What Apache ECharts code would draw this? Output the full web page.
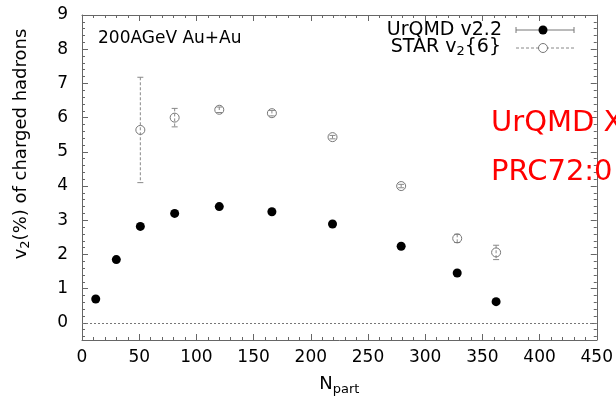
<!DOCTYPE html>
<html>
<head>
<meta charset="utf-8">
<script src="https://cdn.jsdelivr.net/npm/echarts@6/dist/echarts.min.js"></script>
<style>
html,body{margin:0;padding:0;background:#fff;}
#chart{width:616px;height:403px;}
</style>
</head>
<body>
<div id="chart"></div>
<script>
// ---- data ----
const nPartUrQMD = [12, 30, 51, 81, 120, 166, 219, 279, 328, 362];
const v2UrQMD    = [0.70, 1.85, 2.82, 3.20, 3.40, 3.25, 2.89, 2.24, 1.46, 0.62];
const nPartSTAR  = [51, 81, 120, 166, 219, 279, 328, 362];
const v2STAR     = [5.64, 6.00, 6.23, 6.13, 5.43, 4.00, 2.47, 2.06];
const errSTAR    = [1.54, 0.27, 0.08, 0.08, 0.05, 0.05, 0.12, 0.21];
const yTickLabels = [0, 1, 2, 3, 4, 5, 6, 7, 8, 9];
const xTickLabels = [0, 50, 100, 150, 200, 250, 300, 350, 400, 450];

const yMinorTicks = [];
for (let i = -2; i <= 45; i++) { if (i % 5 !== 0) yMinorTicks.push(Math.round(i * 20) / 100); }

const FONT = 'DejaVu Sans';
const FRAME = '#666';

const urqmdData = nPartUrQMD.map((x, i) => [x, v2UrQMD[i]]);
const starData = nPartSTAR.map((x, i) => [x, v2STAR[i]]);
const starErr = nPartSTAR.map((x, i) => [x, v2STAR[i], errSTAR[i]]);

function xAxisCfg(pos, labels) {
  return {
    type: 'value', position: pos, min: xTickLabels[0], max: xTickLabels[xTickLabels.length - 1], interval: 50,
    axisLine: { show: true, onZero: false, lineStyle: { color: FRAME, width: 1 } },
    axisTick: { show: true, inside: true, length: 6, lineStyle: { color: FRAME } },
    minorTick: { show: true, splitNumber: 5, length: 3, lineStyle: { color: FRAME } },
    splitLine: { show: false },
    axisLabel: { show: labels, margin: 9, fontFamily: FONT, fontSize: 17, color: '#000' },
    name: labels ? 'N{sub|part}' : '',
    nameLocation: 'middle', nameGap: 33,
    nameTextStyle: { fontFamily: FONT, fontSize: 18, color: '#000',
      rich: { sub: { fontFamily: FONT, fontSize: 13, color: '#000', padding: [10, 0, 0, 0] } } }
  };
}
function yAxisCfg(pos, major, labels) {
  return {
    type: 'value', position: pos, min: -0.5, max: 9,
    axisLine: { show: major, onZero: false, lineStyle: { color: FRAME, width: 1 } },
    axisTick: { show: true, inside: true, length: major ? 6 : 3,
      customValues: major ? yTickLabels : yMinorTicks, lineStyle: { color: FRAME } },
    splitLine: { show: false },
    axisLabel: { show: labels, customValues: yTickLabels, margin: 14, fontFamily: FONT, fontSize: 17, color: '#000' }
  };
}

const chart = echarts.init(document.getElementById('chart'), null, { renderer: 'canvas' });
chart.setOption({
  animation: false,
  backgroundColor: '#fff',
  grid: { left: 82, right: 19, top: 15, bottom: 63 },
  xAxis: [xAxisCfg('bottom', true), xAxisCfg('top', false)],
  yAxis: [yAxisCfg('left', true, true), yAxisCfg('left', false, false),
          yAxisCfg('right', true, false), yAxisCfg('right', false, false)],
  series: [
    {
      type: 'custom', name: 'STAR err', xAxisIndex: 0, yAxisIndex: 0, z: 2,
      data: starErr,
      renderItem: function (params, api) {
        const x = api.value(0), y = api.value(1), e = api.value(2);
        const t = api.coord([x, y + e]), b = api.coord([x, y - e]);
        const w = 3;
        const st = { stroke: '#888', lineWidth: 1 };
        return { type: 'group', children: [
          { type: 'line', shape: { x1: t[0], y1: t[1], x2: b[0], y2: b[1] }, style: { stroke: '#888', lineWidth: 1, lineDash: [3, 2] } },
          { type: 'line', shape: { x1: t[0] - w, y1: t[1], x2: t[0] + w, y2: t[1] }, style: st },
          { type: 'line', shape: { x1: b[0] - w, y1: b[1], x2: b[0] + w, y2: b[1] }, style: st }
        ] };
      }
    },
    {
      type: 'scatter', name: 'STAR v2{6}', xAxisIndex: 0, yAxisIndex: 0, z: 3,
      data: starData, symbol: 'circle', symbolSize: 9,
      itemStyle: { color: 'rgba(0,0,0,0)', borderColor: '#777', borderWidth: 1, opacity: 1 },
      markLine: {
        silent: true, symbol: 'none', label: { show: false },
        lineStyle: { color: '#777', type: [2, 2], width: 1 },
        data: [{ yAxis: 0 }]
      }
    },
    {
      type: 'scatter', name: 'UrQMD v2.2', xAxisIndex: 0, yAxisIndex: 0, z: 4,
      data: urqmdData, symbol: 'circle', symbolSize: 9,
      itemStyle: { color: '#000', opacity: 1 }
    }
  ],
  graphic: [
    { type: 'text', rotation: Math.PI / 2, x: 21, y: 144, silent: true,
      style: { text: 'v{sub|2}(%) of charged hadrons', fill: '#000', font: '18px ' + FONT,
        align: 'center', verticalAlign: 'middle',
        rich: { sub: { fontFamily: FONT, fontSize: 13, padding: [10, 0, 0, 0] } } } },
    { type: 'text', x: 98, y: 39, silent: true,
      style: { text: '200AGeV Au+Au', fill: '#000', font: '17px ' + FONT, align: 'left', verticalAlign: 'middle' } },
    { type: 'text', x: 502, y: 30, silent: true,
      style: { text: 'UrQMD v2.2', fill: '#000', font: '19px ' + FONT, align: 'right', verticalAlign: 'middle' } },
    { type: 'text', x: 501, y: 47, silent: true,
      style: { text: 'STAR v{sub|2}{6}', fill: '#000', font: '19px ' + FONT, align: 'right', verticalAlign: 'middle',
        rich: { sub: { fontFamily: FONT, fontSize: 13, padding: [10, 0, 0, 0] } } } },
    { type: 'line', silent: true, shape: { x1: 516, y1: 30, x2: 574, y2: 30 }, style: { stroke: '#777', lineWidth: 1 } },
    { type: 'line', silent: true, shape: { x1: 516, y1: 27, x2: 516, y2: 33 }, style: { stroke: '#777', lineWidth: 1 } },
    { type: 'line', silent: true, shape: { x1: 574, y1: 27, x2: 574, y2: 33 }, style: { stroke: '#777', lineWidth: 1 } },
    { type: 'circle', silent: true, shape: { cx: 543, cy: 30, r: 4.5 }, style: { fill: '#000' } },
    { type: 'line', silent: true, shape: { x1: 516, y1: 48, x2: 574, y2: 48 }, style: { stroke: '#888', lineWidth: 1, lineDash: [3, 2] } },
    { type: 'circle', silent: true, shape: { cx: 543, cy: 48, r: 4.5 }, style: { fill: '#fff', stroke: '#777', lineWidth: 1 } },
    { type: 'text', x: 491, y: 123, silent: true, z: 10,
      style: { text: 'UrQMD X', fill: '#ff0000', font: '29px ' + FONT, align: 'left', verticalAlign: 'middle' } },
    { type: 'text', x: 491, y: 172, silent: true, z: 10,
      style: { text: 'PRC72:0', fill: '#ff0000', font: '29px ' + FONT, align: 'left', verticalAlign: 'middle' } }
  ]
});
</script>
</body>
</html>
